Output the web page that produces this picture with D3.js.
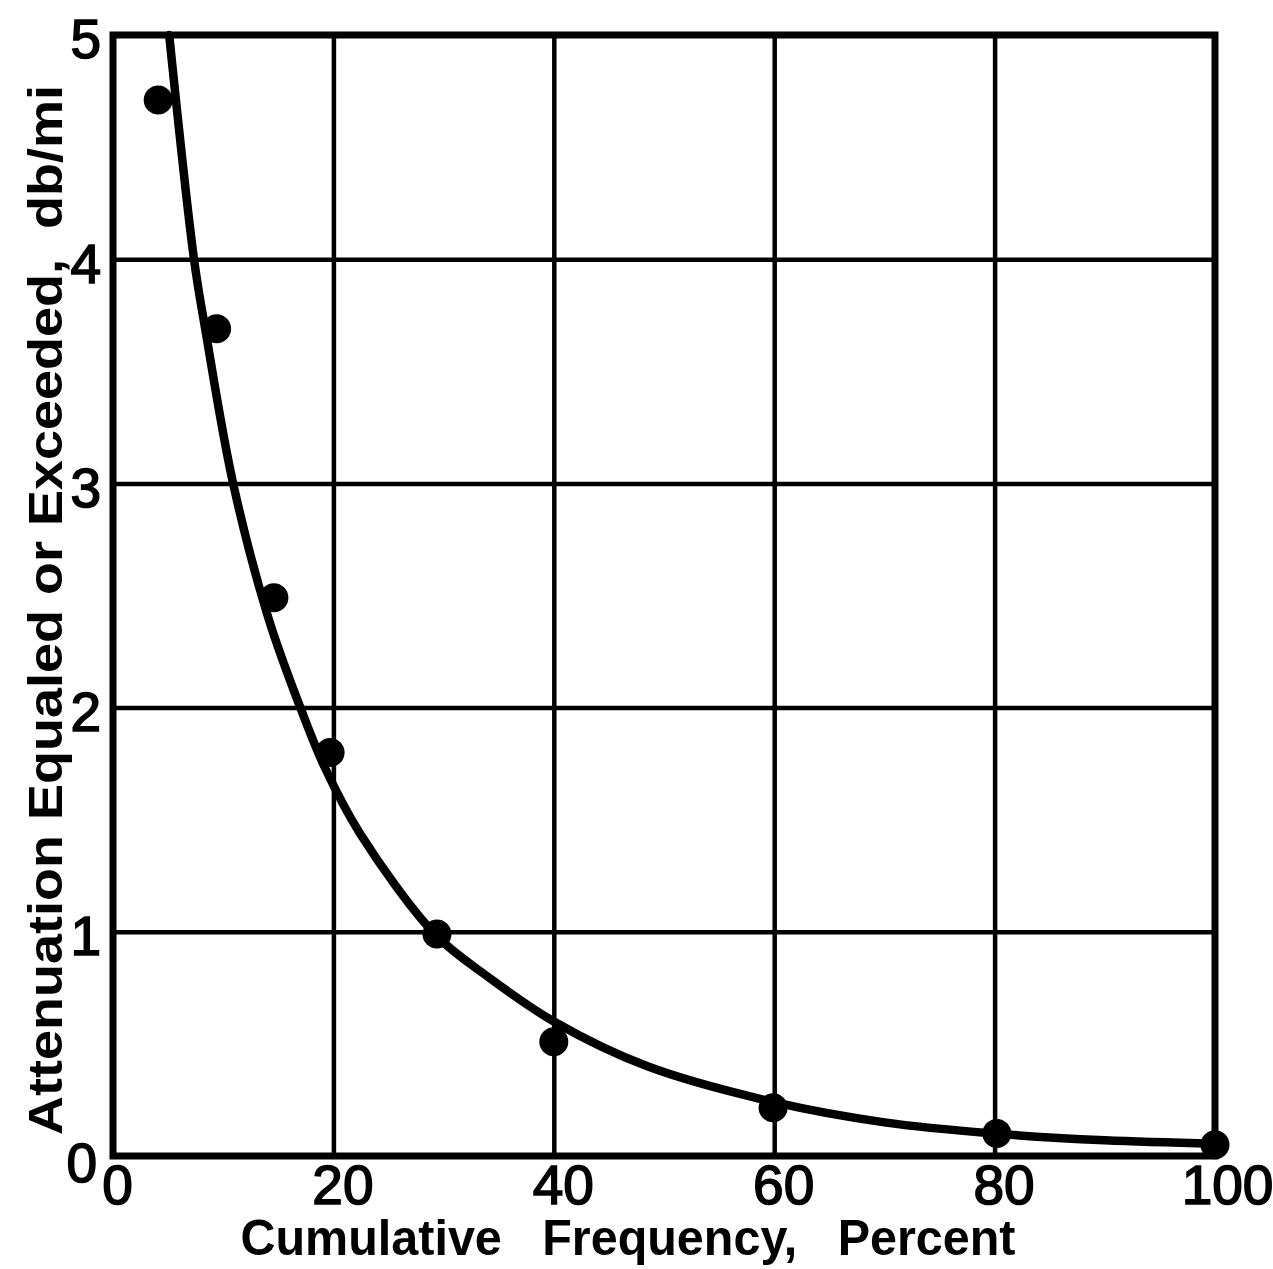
<!DOCTYPE html>
<html>
<head>
<meta charset="utf-8">
<script src="https://cdn.jsdelivr.net/npm/d3@7"></script>
<style>
  body { margin: 0; background: #fff; }
  text { fill: #000; }
</style>
</head>
<body>
<div id="chart"></div>
<script>
// Values
var xTicks = [0, 20, 40, 60, 80, 100],
    yTicks = [0, 1, 2, 3, 4, 5];

// measured points (cumulative frequency %, attenuation db/mi)
var pointX = [4.1, 9.4, 14.6, 19.7, 29.4, 40, 59.9, 80.2, 100],
    pointY = [4.71, 3.69, 2.49, 1.80, 0.99, 0.51, 0.215, 0.10, 0.05];

// fitted curve
var curveX = [5.1, 7.35, 8.4, 10.9, 14.1, 17.0, 19.2, 22.4, 29.2, 34, 40, 48.5, 60, 70, 80, 90, 100],
    curveY = [5.0, 4.0, 3.68, 3.0, 2.40, 2.0, 1.735, 1.44, 0.99, 0.80, 0.60, 0.40, 0.24, 0.15, 0.10, 0.07, 0.055];

var xTitle = "Cumulative\u00a0\u00a0\u00a0Frequency,\u00a0\u00a0\u00a0Percent",
    yTitle = "Attenuation Equaled or Exceeded,\u00a0 db/mi";

// plot frame (pixels)
var W = 1273, H = 1269,
    mLeft = 113, mRight = 1215, mTop = 35, mBottom = 1156;

var svg = d3.select("#chart").append("svg")
    .attr("width", W)
    .attr("height", H)
    .style("font-family", "'Liberation Sans', Arial, sans-serif");

var x = d3.scaleLinear().domain([0, 100]).range([mLeft, mRight]);
var y = d3.scaleLinear().domain([0, 5]).range([mBottom, mTop]);

// vertical grid + x tick labels
var xAxis = svg.append("g")
    .attr("transform", "translate(0," + mBottom + ")")
    .call(d3.axisBottom(x).tickValues(xTicks).tickSize(-(mBottom - mTop)).tickPadding(0).tickFormat(d3.format("d")));
xAxis.select(".domain").remove();
xAxis.selectAll(".tick line").attr("stroke", "#000").attr("stroke-width", 4.5);
xAxis.selectAll(".tick text")
    .attr("x", function(d) { return d === 0 ? 4 : (d === 100 ? 12 : 9); })
    .attr("y", 48)
    .attr("dy", null)
    .attr("stroke", "#000")
    .attr("stroke-width", 1.6)
    .style("font-size", "55px")
    .style("fill", "#000");

// horizontal grid + y tick labels
var yAxis = svg.append("g")
    .attr("transform", "translate(" + mLeft + ",0)")
    .call(d3.axisLeft(y).tickValues(yTicks).tickSize(-(mRight - mLeft)).tickPadding(14).tickFormat(d3.format("d")));
yAxis.select(".domain").remove();
yAxis.selectAll(".tick line").attr("stroke", "#000").attr("stroke-width", 4.5);
yAxis.selectAll(".tick text")
    .attr("dy", "0.36em")
    .attr("y", function(d) { return d === 0 ? 6 : 3; })
    .attr("x", function(d) { return d === 0 ? -16 : -12; })
    .attr("stroke", "#000")
    .attr("stroke-width", 1.6)
    .style("font-size", "55px")
    .style("fill", "#000");

// frame
svg.append("rect")
    .attr("x", mLeft)
    .attr("y", mTop)
    .attr("width", mRight - mLeft)
    .attr("height", mBottom - mTop)
    .attr("fill", "none")
    .attr("stroke", "#000")
    .attr("stroke-width", 7);

// fitted curve
var line = d3.line()
    .x(function(d) { return x(d[0]); })
    .y(function(d) { return y(d[1]); })
    .curve(d3.curveCatmullRom.alpha(0.5));

svg.append("path")
    .datum(d3.zip(curveX, curveY))
    .attr("d", line)
    .attr("fill", "none")
    .attr("stroke", "#000")
    .attr("stroke-width", 8.5)
    .attr("stroke-linecap", "round");

// measured points
svg.append("g").selectAll("circle")
    .data(d3.zip(pointX, pointY)).enter()
    .append("circle")
    .attr("cx", function(d) { return x(d[0]); })
    .attr("cy", function(d) { return y(d[1]); })
    .attr("r", 14.5)
    .attr("fill", "#000");

// axis titles
svg.append("text")
    .attr("x", 628)
    .attr("y", 1255)
    .attr("text-anchor", "middle")
    .attr("textLength", 775)
    .attr("lengthAdjust", "spacingAndGlyphs")
    .style("font-size", "50px")
    .style("font-weight", "bold")
    .text(xTitle);

svg.append("text")
    .attr("transform", "translate(62,610) rotate(-90)")
    .attr("text-anchor", "middle")
    .attr("textLength", 1050)
    .attr("lengthAdjust", "spacingAndGlyphs")
    .style("font-size", "49px")
    .style("font-weight", "bold")
    .text(yTitle);
</script>
</body>
</html>
